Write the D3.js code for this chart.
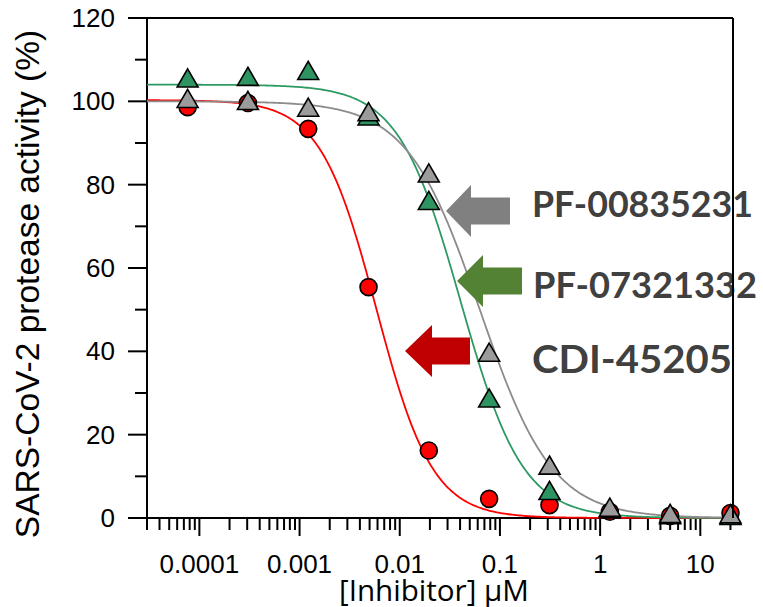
<!DOCTYPE html>
<html>
<head>
<meta charset="utf-8">
<script src="https://cdn.jsdelivr.net/npm/d3@7"></script>
<style>
	body { margin: 0; background: #fff; }
	svg { display: block; }
</style>
</head>
<body>
<svg id="chart" width="763" height="607"></svg>
<script>
// concentrations (uM), 4-fold dilution series
const conc = [0.0000763, 0.000305, 0.00122, 0.00488, 0.0195, 0.078, 0.3125, 1.25, 5, 20];

// % activity
const cdi45205 = [98.6, 99.6, 93.4, 55.4, 16.2, 4.6, 3.1, 1.5, 0.5, 1.2];
const pf07321332 = [105.6, 106.0, 107.4, 96.5, 76.2, 28.8, 6.6, 2.2, 0.8, 0.6];
const pf00835231 = [100.7, 100.2, 98.6, 97.5, 82.8, 39.8, 12.7, 2.6, 1.1, 1.0];

// 4PL fit: top, bottom, IC50 (uM), hill
const fitCdi = [100.3, 0, 0.00585, 1.55];
const fitPf073 = [104, 0, 0.0405, 1.4];
const fitPf008 = [100, 0, 0.063, 1.2];

const names = ['PF-00835231', 'PF-07321332', 'CDI-45205'];
const yTicks = [0, 20, 40, 60, 80, 100, 120];
const xTicks = [0.0001, 0.001, 0.01, 0.1, 1, 10];
const xTickLabels = ['0.0001', '0.001', '0.01', '0.1', '1', '10'];

const svg = d3.select('#chart');
const pLeft = 147, pRight = 733, pTop = 18, pBottom = 518;

const x = d3.scaleLog().domain([3e-5, 21.2]).range([pLeft, pRight]);
const y = d3.scaleLinear().domain([0, 120]).range([pBottom, pTop]);

const series = [
	{ vals: cdi45205, fit: fitCdi, line: '#ff0000', fill: '#ff0000', shape: 'circle' },
	{ vals: pf07321332, fit: fitPf073, line: '#2e9a63', fill: '#2e9462', shape: 'tri' },
	{ vals: pf00835231, fit: fitPf008, line: '#8c8c8c', fill: '#9b9b9b', shape: 'tri' },
];

const logistic = (p, c) => p[1] + (p[0] - p[1]) / (1 + Math.pow(c / p[2], p[3]));

// frame + axes
svg.append('line').attr('x1', 128).attr('x2', pRight).attr('y1', pTop).attr('y2', pTop)
	.attr('stroke', '#000').attr('stroke-width', 2);
svg.append('line').attr('x1', pLeft).attr('x2', pLeft).attr('y1', pTop).attr('y2', pBottom)
	.attr('stroke', '#000').attr('stroke-width', 2);
svg.append('line').attr('x1', 128).attr('x2', pRight).attr('y1', pBottom).attr('y2', pBottom)
	.attr('stroke', '#000').attr('stroke-width', 2);

// y ticks
const yMinor = d3.range(10, 120, 20);
svg.selectAll('.ytick').data(yTicks).enter().append('line')
	.attr('x1', 128).attr('x2', pLeft).attr('y1', d => y(d)).attr('y2', d => y(d))
	.attr('stroke', '#000').attr('stroke-width', 2);
svg.selectAll('.yminor').data(yMinor).enter().append('line')
	.attr('x1', 135).attr('x2', pLeft).attr('y1', d => y(d)).attr('y2', d => y(d))
	.attr('stroke', '#000').attr('stroke-width', 2);
svg.selectAll('.ylab').data(yTicks).enter().append('text')
	.attr('x', 115).attr('y', d => y(d) + 9)
	.attr('text-anchor', 'end')
	.style('font', '26px "Liberation Sans", Arial, sans-serif')
	.text(d => d);

// x ticks
const xMinor = [];
for (let e = -5; e <= 1; e++) {
	for (let m = 2; m <= 9; m++) {
		const v = m * Math.pow(10, e);
		if (v >= 3e-5 && v <= 21.2) xMinor.push(v);
	}
}
svg.selectAll('.xminor').data(xMinor).enter().append('line')
	.attr('x1', d => x(d)).attr('x2', d => x(d)).attr('y1', pBottom).attr('y2', pBottom + 12)
	.attr('stroke', '#000').attr('stroke-width', 2);
svg.selectAll('.xtick').data(xTicks).enter().append('line')
	.attr('x1', d => x(d)).attr('x2', d => x(d)).attr('y1', pBottom).attr('y2', pBottom + 18)
	.attr('stroke', '#000').attr('stroke-width', 2);
svg.selectAll('.xlab').data(xTicks).enter().append('text')
	.attr('x', d => x(d)).attr('y', 573)
	.attr('text-anchor', 'middle')
	.style('font', '26px "Liberation Sans", Arial, sans-serif')
	.text((d, i) => xTickLabels[i]);

// axis titles
svg.append('text')
	.attr('transform', 'translate(39,284) rotate(-90)')
	.attr('text-anchor', 'middle')
	.style('font', '33.5px "Liberation Sans", Arial, sans-serif')
	.text('SARS-CoV-2 protease activity (%)');
svg.append('text')
	.attr('x', 339).attr('y', 601)
	.attr('textLength', 190).attr('lengthAdjust', 'spacingAndGlyphs')
	.style('font', '30px "Open Sans", sans-serif')
	.text('[Inhibitor] µM');

// fitted curves
const grid = d3.range(0, 301).map(i => x.invert(pLeft + (pRight - pLeft) * i / 300));
const line = d3.line().x(d => x(d[0])).y(d => y(d[1]));
series.forEach(s => {
	svg.append('path')
		.attr('d', line(grid.map(c => [c, logistic(s.fit, c)])))
		.attr('fill', 'none').attr('stroke', s.line).attr('stroke-width', 1.8);
});

// markers (triangle shifted so its box is centred on the value)
const tri = d3.symbol().type(d3.symbolTriangle).size(190);
series.forEach(s => {
	const pts = svg.append('g').selectAll('.pt').data(s.vals).enter();
	if (s.shape === 'circle') {
		pts.append('circle')
			.attr('cx', (d, i) => x(conc[i])).attr('cy', d => y(d)).attr('r', 8.5)
			.attr('fill', s.fill).attr('stroke', '#000').attr('stroke-width', 1.6);
	} else {
		pts.append('path')
			.attr('d', tri)
			.attr('transform', (d, i) => `translate(${x(conc[i])},${y(d) + 3})`)
			.attr('fill', s.fill).attr('stroke', '#000').attr('stroke-width', 1.6);
	}
});

// arrow annotations: tip x/y, total length, head length
const arrows = [
	{ tx: 446, ty: 211, len: 64, head: 25, color: '#808080' },
	{ tx: 457, ty: 281, len: 65, head: 26, color: '#548235' },
	{ tx: 405, ty: 351, len: 65, head: 27, color: '#c00000' },
];
arrows.forEach(a => {
	const hh = 26, sh = 13.5;
	const pts = [
		[a.tx, a.ty], [a.tx + a.head, a.ty - hh], [a.tx + a.head, a.ty - sh],
		[a.tx + a.len, a.ty - sh], [a.tx + a.len, a.ty + sh], [a.tx + a.head, a.ty + sh],
		[a.tx + a.head, a.ty + hh]
	];
	svg.append('polygon').attr('points', pts.map(p => p.join(',')).join(' '))
		.attr('fill', a.color);
});

const labelPos = [
	{ x: 532, y: 217, w: 221, size: 36 },
	{ x: 533, y: 298, w: 224, size: 36 },
	{ x: 532, y: 373, w: 200, size: 39 },
];
svg.selectAll('.name').data(names).enter().append('text')
	.attr('x', (d, i) => labelPos[i].x).attr('y', (d, i) => labelPos[i].y)
	.attr('textLength', (d, i) => labelPos[i].w).attr('lengthAdjust', 'spacingAndGlyphs')
	.style('font-family', 'Lato, "Open Sans", sans-serif')
	.style('font-weight', 'bold')
	.style('font-size', (d, i) => labelPos[i].size + 'px')
	.attr('fill', '#404040')
	.text(d => d);

// right frame line sits over the labels
svg.append('line').attr('x1', pRight).attr('x2', pRight).attr('y1', pTop).attr('y2', pBottom)
	.attr('stroke', '#000').attr('stroke-width', 2);
</script>
</body>
</html>
